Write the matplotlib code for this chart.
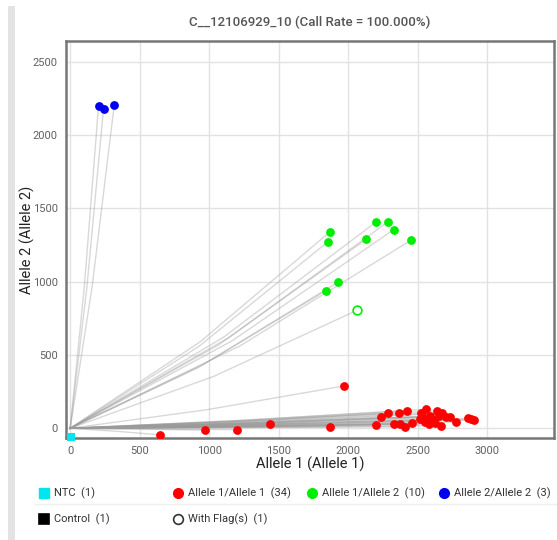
import matplotlib
matplotlib.use("Agg")
import matplotlib.pyplot as plt
from matplotlib.lines import Line2D
from matplotlib.patches import Rectangle

plt.rcParams['font.family'] = ['Roboto', 'DejaVu Sans']

title = "C__12106929_10 (Call Rate = 100.000%)"
x_label = "Allele 1 (Allele 1)"
y_label = "Allele 2 (Allele 2)"
x_ticks = [0, 500, 1000, 1500, 2000, 2500, 3000]
y_ticks = [0, 500, 1000, 1500, 2000, 2500]

# Allele 1/Allele 1 (red)
red_x = [643, 971, 1201, 1439, 1868, 1971, 2201, 2235, 2285, 2326, 2362, 2374, 2405,
         2424, 2460, 2513, 2520, 2540, 2554, 2561, 2578, 2590, 2609, 2626, 2638, 2650,
         2669, 2674, 2705, 2734, 2777, 2861, 2885, 2901]
red_y = [-44, -12, -9, 31, 11, 289, 22, 75, 104, 27, 104, 29, 11,
         120, 35, 61, 102, 79, 45, 130, 27, 84, 57, 34, 120, 84,
         18, 102, 79, 79, 41, 68, 61, 57]
# Allele 1/Allele 2 (green)
green_x = [1871, 1851, 2201, 2285, 2329, 2130, 2451, 1926, 1837]
green_y = [1341, 1269, 1407, 1407, 1355, 1289, 1282, 996, 937]
# Flagged (green outline)
flag_x = [2065]
flag_y = [805]
# Allele 2/Allele 2 (blue)
blue_x = [204, 240, 317]
blue_y = [2198, 2178, 2203]
# NTC
ntc_x = [5]
ntc_y = [-62]

legend_row1 = [("NTC  (1)", "s", "#00e5ee", "#00e5ee"),
               ("Allele 1/Allele 1  (34)", "o", "#ff0000", "#ff0000"),
               ("Allele 1/Allele 2  (10)", "o", "#00ee00", "#00ee00"),
               ("Allele 2/Allele 2  (3)", "o", "#0000ee", "#0000ee")]
legend_row2 = [("Control  (1)", "s", "#000000", "#000000"),
               ("With Flag(s)  (1)", "o", "none", "#333333")]

W, H = 557, 540
fig = plt.figure(figsize=(W / 100, H / 100), dpi=100)
fig.patch.set_facecolor("white")

# left gray bar
fig.add_artist(Rectangle((8 / W, 0), 7 / W, 1 - 6 / H, transform=fig.transFigure,
                         facecolor="#e3e3e3", edgecolor="none"))

ax = fig.add_axes([66 / W, 1 - 438 / H, (554 - 66) / W, (438 - 41) / H])
ax.set_xlim(-30, 3480)
ax.set_ylim(-66, 2640)
ax.set_xticks(x_ticks)
ax.set_yticks(y_ticks)
ax.grid(True, color="#e2e2e2", linewidth=1)
ax.set_axisbelow(True)
for s in ax.spines.values():
    s.set_color("#777777")
    s.set_linewidth(1.8)
ax.tick_params(length=0, labelsize=8, labelcolor="#606060", pad=6)

# trajectories from origin
all_x = red_x + green_x + flag_x + blue_x
all_y = red_y + green_y + flag_y + blue_y
for xx, yy in zip(all_x, all_y):
    ax.plot([0, xx * 0.5, xx], [0, yy * 0.44, yy], color="#9a9a9a", alpha=0.38,
            linewidth=1.0, zorder=2)

ax.scatter(red_x, red_y, s=40, color="#ff0000", zorder=4, linewidths=0)
ax.scatter(green_x, green_y, s=40, color="#00ee00", zorder=4, linewidths=0)
ax.scatter(flag_x, flag_y, s=40, facecolor="white", edgecolor="#00ee00", linewidths=1.2, zorder=4)
ax.scatter(blue_x, blue_y, s=40, color="#0000ee", zorder=4, linewidths=0)
ax.scatter(ntc_x, ntc_y, s=40, marker="s", color="#00e5ee", zorder=5, linewidths=0, clip_on=False)

fig.text(310 / W, 1 - 22 / H, title, ha="center", va="center", fontsize=9.5,
         color="#555555", fontweight="medium")
fig.text(310 / W, 1 - 464 / H, x_label, ha="center", va="center", fontsize=10.5, color="#222222")
fig.text(27 / W, 1 - 240 / H, y_label, ha="center", va="center", fontsize=10.5,
         color="#222222", rotation=90)

# legend
row1_x = [44, 178, 312, 444]
for (lab, mk, fc, ec), px in zip(legend_row1, row1_x):
    fig.add_artist(Line2D([px / W], [1 - 493 / H], marker=mk, markersize=7,
                          markerfacecolor=fc, markeredgecolor=ec, linestyle="none",
                          transform=fig.transFigure))
    fig.text((px + 10) / W, 1 - 493 / H, lab, ha="left", va="center", fontsize=8, color="#333333")
fig.add_artist(Line2D([35 / W, 557 / W], [1 - 504 / H, 1 - 504 / H], color="#eeeeee",
                      linewidth=1, transform=fig.transFigure))
row2_x = [44, 178]
for (lab, mk, fc, ec), px in zip(legend_row2, row2_x):
    fig.add_artist(Line2D([px / W], [1 - 519 / H], marker=mk, markersize=7,
                          markerfacecolor=fc, markeredgecolor=ec, markeredgewidth=1.2,
                          linestyle="none", transform=fig.transFigure))
    fig.text((px + 10) / W, 1 - 519 / H, lab, ha="left", va="center", fontsize=8, color="#333333")

fig.savefig("out.png", dpi=100, facecolor="white")
